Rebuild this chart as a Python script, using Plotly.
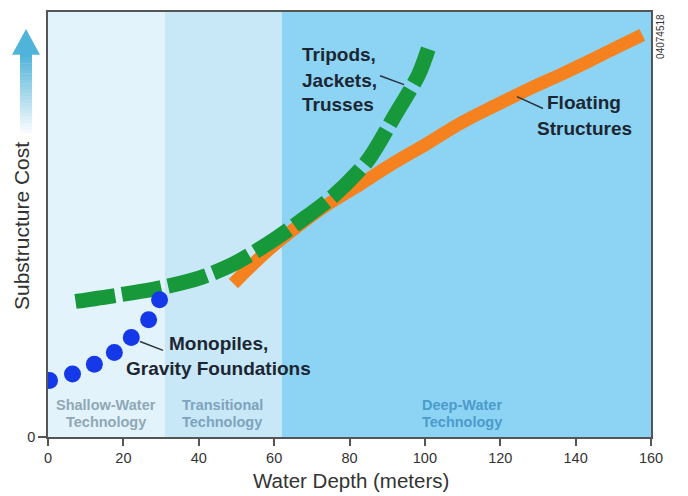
import plotly.graph_objects as go

# ---------------- data ----------------
zone_edges = [0, 31, 62, 160]
zone_names = ["Shallow-Water<br>Technology", "Transitional<br>Technology", "Deep-Water<br>Technology"]

mono_x = [0.4, 6.5, 12.3, 17.6, 22.1, 26.7, 29.6]
mono_y = [13.3, 14.8, 17.1, 19.9, 23.4, 27.6, 32.3]

trip_x = [7.3, 17.9, 29.8, 40.5, 49.2, 58.2, 67.0, 75.7, 84.7, 92.2, 98.3, 100.9]
trip_y = [31.9, 33.3, 35.1, 37.5, 40.7, 45.4, 50.8, 56.7, 64.9, 75.9, 85.2, 91.3]

float_x = [49.2, 58.2, 67.0, 75.0, 82.9, 91.6, 100.7, 109.4, 118.2, 127.2, 135.9, 143.0, 150.0, 157.7]
float_y = [36.1, 43.8, 50.1, 55.2, 59.5, 64.4, 69.1, 73.8, 77.8, 81.7, 85.2, 88.2, 91.3, 94.6]

x_ticks = [0, 20, 40, 60, 80, 100, 120, 140, 160]
y_ticks = [0]

# ---------------- layout helpers ----------------
W, H = 688, 496
ML, MR, MT, MB = 48, 37, 10, 59
PW, PH = W - ML - MR, H - MT - MB
XMAX, YMAX = 160, 100


def dx(px):
    return (px - ML) / PW * XMAX


def dy(py):
    return (H - MB - py) / PH * YMAX


def px_(px):
    return (px - ML) / PW


def py_(py):
    return (H - MB - py) / PH


FONT = "Liberation Sans, Arial, Helvetica, sans-serif"
zone_colors = ["#E2F3FB", "#C8E8F8", "#8DD4F4"]
zone_text_colors = ["#8FA8B6", "#7FA3BC", "#4B9BCB"]
label_color = "#1C2632"

fig = go.Figure()

fig.add_trace(go.Scatter(
    x=float_x, y=float_y, mode="lines",
    line=dict(color="#F5821F", width=13, shape="spline", smoothing=1.0),
    hoverinfo="skip", showlegend=False))

fig.add_trace(go.Scatter(
    x=trip_x, y=trip_y, mode="lines",
    line=dict(color="#17983A", width=15, dash="40px,7px", shape="spline", smoothing=0.8),
    hoverinfo="skip", showlegend=False))

fig.add_trace(go.Scatter(
    x=mono_x, y=mono_y, mode="markers",
    marker=dict(color="#1538E8", size=17, line=dict(width=0)),
    hoverinfo="skip", showlegend=False))

shapes = []
for i in range(3):
    shapes.append(dict(type="rect", xref="x", yref="paper", x0=zone_edges[i], x1=zone_edges[i + 1],
                       y0=0, y1=1, fillcolor=zone_colors[i], line=dict(width=0), layer="below"))

# leader lines
for (a, b, c, d) in [(380, 74, 404, 83), (517, 95, 543, 107), (140, 341, 163, 350)]:
    shapes.append(dict(type="line", xref="x", yref="y", x0=dx(a), y0=dy(b), x1=dx(c), y1=dy(d),
                       line=dict(color="#2A3440", width=1.5)))

# gradient arrow (top-left)
n = 24
top, bot = 52, 132
c0 = (80, 180, 218)
for k in range(n):
    t = k / n
    y0p = top + (bot - top) * k / n
    y1p = top + (bot - top) * (k + 1) / n
    col = tuple(int(c0[j] + (255 - c0[j]) * t) for j in range(3))
    shapes.append(dict(type="rect", xref="paper", yref="paper",
                       x0=px_(20), x1=px_(32), y0=py_(y1p), y1=py_(y0p) + 0.001,
                       fillcolor="rgb(%d,%d,%d)" % col, line=dict(width=0)))
shapes.append(dict(type="path", xref="paper", yref="paper",
                   path="M %f %f L %f %f L %f %f Z" % (px_(12), py_(53), px_(26), py_(27), px_(40), py_(53)),
                   fillcolor="rgb(80,180,218)", line=dict(width=0)))

annotations = []


def ann(text, x, y, size, color, bold=True, xanchor="center", xref="x", yref="y", angle=0):
    annotations.append(dict(text=("<b>%s</b>" % text) if bold else text, x=x, y=y, xref=xref, yref=yref,
                            showarrow=False, xanchor=xanchor, yanchor="middle", textangle=angle,
                            font=dict(family=FONT, size=size, color=color)))


cxs = [dx(106), dx(222), dx(462)]
for i, name in enumerate(zone_names):
    top_line, bot_line = name.split("<br>")
    ann(top_line, cxs[i], dy(405), 14.5, zone_text_colors[i])
    ann(bot_line, cxs[i], dy(422), 14.5, zone_text_colors[i])

for txt, yy in [("Tripods,", 53), ("Jackets,", 79), ("Trusses", 103)]:
    ann(txt, dx(300), dy(yy), 19, label_color, xanchor="left")
for txt, yy in [("Floating", 101), ("Structures", 127)]:
    ann(txt, dx(584), dy(yy), 19, label_color)
for txt, yy in [("Monopiles,", 343), ("Gravity Foundations", 368)]:
    ann(txt, dx(218), dy(yy), 19, label_color)

ann("Water Depth (meters)", px_(351), py_(481), 20.5, "#333333", bold=False, xref="paper", yref="paper")
ann("Substructure Cost", px_(22), py_(225), 21, "#333333", bold=False, xref="paper", yref="paper", angle=-90)
ann("04074518", px_(661), py_(35), 10, "#333333", bold=False, xref="paper", yref="paper", angle=-90)

fig.update_layout(
    width=W, height=H,
    margin=dict(l=ML, r=MR, t=MT, b=MB, pad=0),
    paper_bgcolor="white", plot_bgcolor="white",
    shapes=shapes, annotations=annotations,
    font=dict(family=FONT, size=14, color="#333333"),
    xaxis=dict(range=[0, XMAX], tickvals=x_ticks, ticks="outside", ticklen=7, tickwidth=1.5,
               tickcolor="#555555", showline=True, linecolor="#555555", linewidth=1.5, mirror=True,
               showgrid=False, zeroline=False, tickfont=dict(size=14.5, color="#333333")),
    yaxis=dict(range=[0, YMAX], tickvals=y_ticks, ticks="outside", ticklen=8, tickwidth=1.5,
               tickcolor="#555555", showline=True, linecolor="#555555", linewidth=1.5, mirror=True,
               showgrid=False, zeroline=False, tickfont=dict(size=14.5, color="#333333")),
)

fig.write_html("out.html", config={"displayModeBar": False},
               post_script="document.body.style.margin='0px';document.body.style.overflow='hidden';")
